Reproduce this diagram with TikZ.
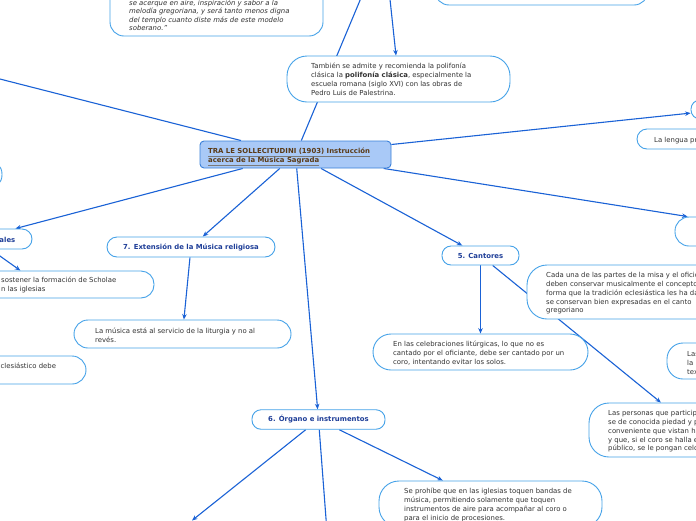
\documentclass[tikz,border=0pt]{standalone}
\usepackage{fontspec}
\setmainfont{DejaVu Sans}
\usetikzlibrary{arrows.meta}
\definecolor{edge}{HTML}{1A62D6}
\definecolor{bord}{HTML}{45A2E8}
\definecolor{txtc}{HTML}{333333}
\definecolor{ttl}{HTML}{1E3E98}
\definecolor{cfill}{HTML}{A9C9F7}
\definecolor{cbord}{HTML}{3A80DA}
\definecolor{brn}{HTML}{5A3A16}
\definecolor{ulc}{HTML}{7A7A7A}
\pgfdeclarelayer{bg}
\pgfsetlayers{bg,main}
\newcommand\zs{\rule{0pt}{6pt}}
\newcommand\ul[1]{{\color{ulc}\underline{\textcolor{brn}{#1}}}}
\begin{document}
\begin{tikzpicture}[x=1pt,y=-1pt,
  mmbox/.style={draw=bord, line width=0.9pt, fill=white, inner sep=0pt},
  ctr/.style={draw=cbord, line width=0.9pt, fill=cfill, inner sep=0pt, rounded corners=4pt},
  txt/.style={font=\fontsize{6.9}{8.8}\selectfont, text=txtc, inner sep=0pt, align=left, anchor=north west},
  ttlt/.style={font=\fontsize{6.9}{8.8}\selectfont\bfseries, text=ttl},
  conn/.style={draw=edge, line width=1.1pt},
  arr/.style={conn, -{Stealth[length=5.5pt,width=4.5pt]}}]
\useasboundingbox (0,0) rectangle (696,520);
% boxes
\node[mmbox, rounded corners=14pt, minimum width=213pt, minimum height=76pt] (A) at (216.5,-2) {};
\node[mmbox, rounded corners=14pt, minimum width=213pt, minimum height=45pt] (B) at (541.5,-17.5) {};
\node[mmbox, rounded corners=20pt, minimum width=223pt, minimum height=46pt] (C) at (398.5,79) {};
\node[ctr, minimum width=191pt, minimum height=27pt] (D) at (295.5,154.5) {};
\node[mmbox, rounded corners=9pt, minimum width=68pt, minimum height=19pt] (E) at (725,109.5) {};
\node[mmbox, rounded corners=10pt, minimum width=123pt, minimum height=20pt] (F) at (698.5,139) {};
\node[mmbox, rounded corners=14pt, minimum width=214pt, minimum height=29pt] (G) at (782,231.5) {};
\node[mmbox, rounded corners=10pt, minimum width=112pt, minimum height=20pt] (H) at (-24,239) {};
\node[mmbox, rounded corners=14pt, minimum width=122pt, minimum height=29pt] (I) at (-59,174.5) {};
\node[mmbox, rounded corners=13pt, minimum width=228pt, minimum height=27pt] (J) at (40,284.5) {};
\node[mmbox, rounded corners=10pt, minimum width=168pt, minimum height=20pt, ttlt] (K) at (191,247) {7. Extensión de la Música religiosa};
\node[mmbox, rounded corners=14pt, minimum width=217pt, minimum height=28pt] (L) at (182.5,334) {};
\node[mmbox, rounded corners=14pt, minimum width=166pt, minimum height=28pt] (M) at (3,370) {};
\node[mmbox, rounded corners=9pt, minimum width=77pt, minimum height=19pt, ttlt] (N) at (480.5,255.5) {5. Cantores};
\node[mmbox, rounded corners=20pt, minimum width=273pt, minimum height=54pt] (O) at (663.5,292) {};
\node[mmbox, rounded corners=18pt, minimum width=215pt, minimum height=36pt] (P) at (480.5,352) {};
\node[mmbox, rounded corners=16pt, minimum width=113pt, minimum height=36pt] (Q) at (723.5,361) {};
\node[mmbox, rounded corners=20pt, minimum width=211pt, minimum height=54pt] (R) at (694.5,430) {};
\node[mmbox, rounded corners=9pt, minimum width=133pt, minimum height=19.5pt, ttlt] (S) at (318.5,419.5) {6. Órgano e instrumentos};
\node[mmbox, rounded corners=20pt, minimum width=223pt, minimum height=46pt] (T) at (490.5,504) {};
% off-canvas ends
\coordinate (Lt) at (-100,53.5);
\coordinate (Pp) at (384,-57);
\coordinate (sl) at (192,520.5);
\coordinate (sd) at (328,545);
% texts
\node[txt, font=\fontsize{6.9}{8.3}\selectfont\itshape] (tA) at (129,-0.8) {\zs se acerque en aire, inspiración y sabor a la\\melodía gregoriana, y será tanto menos digna\\del templo cuanto diste más de este modelo\\soberano.”};
\node[txt] (tC) at (311,62.5) {\zs También se admite y recomienda la polifonía\\clásica la \textbf{polifonía clásica}, especialmente la\\escuela romana (siglo XVI) con las obras de\\Pedro Luis de Palestrina.};
\node[txt, font=\fontsize{6.9}{8.8}\selectfont\bfseries] (tD) at (208,147.5) {\zs\ul{TRA LE SOLLECITUDINI (1903) Instrucción}\\\ul{acerca de la Música Sagrada}};
\node[txt] (tF) at (654,136.5) {\zs La lengua propia};
\node[txt, ttlt, anchor=north east] (tH) at (15.5,236.5) {\zs generales};
\node[txt] (tJ) at (1,276.5) {\zs sostener la formación de Scholae\\n las iglesias};
\node[txt] (tL) at (95,327) {\zs La música está al servicio de la liturgia y no al\\revés.};
\node[txt] (tM) at (0.5,362.5) {\zs clesiástico debe};
\node[txt] (tO) at (546,271.5) {\zs Cada una de las partes de la misa y el oficio\\deben conservar musicalmente el concepto y\\forma que la tradición eclesiástica les ha dado,\\se conservan bien expresadas en el canto\\gregoriano};
\node[txt] (tP) at (393,340.5) {\zs En las celebraciones litúrgicas, lo que no es\\cantado por el oficiante, debe ser cantado por un\\coro, intentando evitar los solos.};
\node[txt] (tQ) at (687,350.5) {\zs Las\\la\\tex};
\node[txt] (tR) at (608,409.5) {\zs Las personas que participan\\se de conocida piedad y probidad\\conveniente que vistan hábito\\y que, si el coro se halla expuesto\\público, se le pongan celosías};
\node[txt] (tT) at (404,487.5) {\zs Se prohíbe que en las iglesias toquen bandas de\\música, permitiendo solamente que toquen\\instrumentos de aire para acompañar al coro o\\para el inicio de procesiones.};
% connectors
\begin{pgfonlayer}{bg}
\fill[white] (0,0) rectangle (696,520);
\draw[conn] (D) -- (Lt);
\draw[conn] (D) -- (Pp);
\draw[arr] (Pp) -- (C);
\draw[arr] (D) -- (E);
\draw[arr] (D) -- (G);
\draw[arr] (D) -- (H);
\draw[arr] (D) -- (K);
\draw[arr] (D) -- (S);
\draw[arr] (D) -- (N);
\draw[arr] (H) -- (J);
\draw[arr] (K) -- (L);
\draw[arr] (N) -- (P);
\draw[arr] (N) -- (R);
\draw[arr] (S) -- (sl);
\draw[conn] (S) -- (sd);
\draw[arr] (S) -- (T);
\end{pgfonlayer}
\end{tikzpicture}
\end{document}
